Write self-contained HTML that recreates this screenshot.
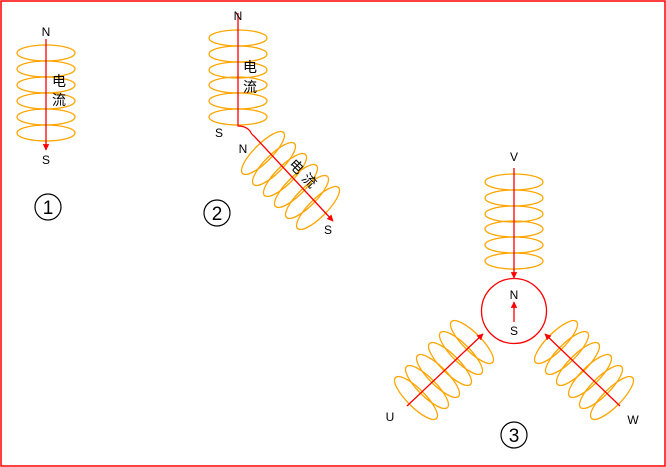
<!DOCTYPE html>
<html><head><meta charset="utf-8"><style>html,body{margin:0;padding:0;background:#fff}svg{display:block}</style></head>
<body>
<svg width="666" height="467" viewBox="0 0 666 467" xmlns="http://www.w3.org/2000/svg" font-family="Liberation Sans, Noto Sans CJK SC, sans-serif">
<defs>
<marker id="a" viewBox="0 0 10 10" refX="9" refY="5" markerWidth="5" markerHeight="5" orient="auto"><path d="M0,0 L10,5 L0,10 z" fill="#f00"/></marker>
</defs>
<rect x="1" y="1" width="664" height="465" fill="none" stroke="#f00" stroke-width="1.5"/>
<g fill="none" stroke="#ffa500" stroke-width="1.3">
<!-- coil 1 -->
<ellipse cx="46" cy="53" rx="29" ry="8"/><ellipse cx="46" cy="69" rx="29" ry="8"/><ellipse cx="46" cy="85" rx="29" ry="8"/><ellipse cx="46" cy="101" rx="29" ry="8"/><ellipse cx="46" cy="117" rx="29" ry="8"/><ellipse cx="46" cy="133" rx="29" ry="8"/>
<!-- coil 2a -->
<ellipse cx="238" cy="38" rx="29" ry="8"/><ellipse cx="238" cy="54" rx="29" ry="8"/><ellipse cx="238" cy="70" rx="29" ry="8"/><ellipse cx="238" cy="85" rx="29" ry="8"/><ellipse cx="238" cy="101" rx="29" ry="8"/><ellipse cx="238" cy="117" rx="29" ry="8"/>
<!-- coil 2b -->
<g transform="translate(263,153)"><ellipse cx="0" cy="0" rx="29" ry="9" transform="rotate(-45)"/></g>
<g transform="translate(274,164)"><ellipse cx="0" cy="0" rx="29" ry="9" transform="rotate(-45)"/></g>
<g transform="translate(285,175)"><ellipse cx="0" cy="0" rx="29" ry="9" transform="rotate(-45)"/></g>
<g transform="translate(296,186)"><ellipse cx="0" cy="0" rx="29" ry="9" transform="rotate(-45)"/></g>
<g transform="translate(307,197)"><ellipse cx="0" cy="0" rx="29" ry="9" transform="rotate(-45)"/></g>
<g transform="translate(318,208)"><ellipse cx="0" cy="0" rx="29" ry="9" transform="rotate(-45)"/></g>
<!-- coil V -->
<ellipse cx="514" cy="182" rx="29" ry="8"/><ellipse cx="514" cy="198" rx="29" ry="8"/><ellipse cx="514" cy="214" rx="29" ry="8"/><ellipse cx="514" cy="229" rx="29" ry="8"/><ellipse cx="514" cy="245" rx="29" ry="8"/><ellipse cx="514" cy="261" rx="29" ry="8"/>
<!-- coil U -->
<g transform="translate(416,398)"><ellipse rx="29" ry="9" transform="rotate(45)"/></g>
<g transform="translate(427,387)"><ellipse rx="29" ry="9" transform="rotate(45)"/></g>
<g transform="translate(438,376)"><ellipse rx="29" ry="9" transform="rotate(45)"/></g>
<g transform="translate(450,364)"><ellipse rx="29" ry="9" transform="rotate(45)"/></g>
<g transform="translate(461,353)"><ellipse rx="29" ry="9" transform="rotate(45)"/></g>
<g transform="translate(472,342)"><ellipse rx="29" ry="9" transform="rotate(45)"/></g>
<!-- coil W -->
<g transform="translate(556,342)"><ellipse rx="29" ry="9" transform="rotate(-45)"/></g>
<g transform="translate(567,353)"><ellipse rx="29" ry="9" transform="rotate(-45)"/></g>
<g transform="translate(578,364)"><ellipse rx="29" ry="9" transform="rotate(-45)"/></g>
<g transform="translate(590,376)"><ellipse rx="29" ry="9" transform="rotate(-45)"/></g>
<g transform="translate(601,387)"><ellipse rx="29" ry="9" transform="rotate(-45)"/></g>
<g transform="translate(612,398)"><ellipse rx="29" ry="9" transform="rotate(-45)"/></g>
</g>
<g stroke="#f00" stroke-width="1.3" fill="none">
<line x1="46" y1="39" x2="46" y2="150" marker-end="url(#a)"/>
<path d="M238,13 L238,126 Q246,126 250,131 Q252,135 254,136 L333,221" marker-end="url(#a)"/>
<line x1="514" y1="168" x2="514" y2="278" marker-end="url(#a)"/>
<circle cx="514" cy="311" r="32.5"/>
<line x1="514" y1="322" x2="514" y2="302" marker-end="url(#a)"/>
<line x1="407" y1="406" x2="483" y2="334" marker-end="url(#a)"/>
<line x1="620" y1="406" x2="545" y2="334" marker-end="url(#a)"/>
</g>
<g font-size="12" fill="#000" text-anchor="middle">
<text x="46" y="36">N</text><text x="46" y="164">S</text>
<text x="238" y="20">N</text><text x="219" y="137">S</text><text x="243" y="153">N</text><text x="328" y="234">S</text>
<text x="514" y="161">V</text><text x="514" y="299">N</text><text x="514" y="335">S</text>
<text x="390" y="421">U</text><text x="633" y="424">W</text>
</g>
<g font-size="14" fill="#000" text-anchor="middle">
<text x="59" y="86">电</text><text x="59" y="105">流</text>
<text x="250" y="72">电</text><text x="250" y="92">流</text>
<text transform="translate(293,170) rotate(45)">电</text>
<text transform="translate(306,184) rotate(45)">流</text>
</g>
<g fill="none" stroke="#000" stroke-width="1.2">
<circle cx="48" cy="207" r="13"/><circle cx="217" cy="213" r="13"/><circle cx="514" cy="435" r="13"/>
</g>
<g font-size="19" fill="#000" text-anchor="middle">
<text x="48" y="214">1</text><text x="217" y="220">2</text><text x="514" y="442">3</text>
</g>
</svg>
</body></html>
